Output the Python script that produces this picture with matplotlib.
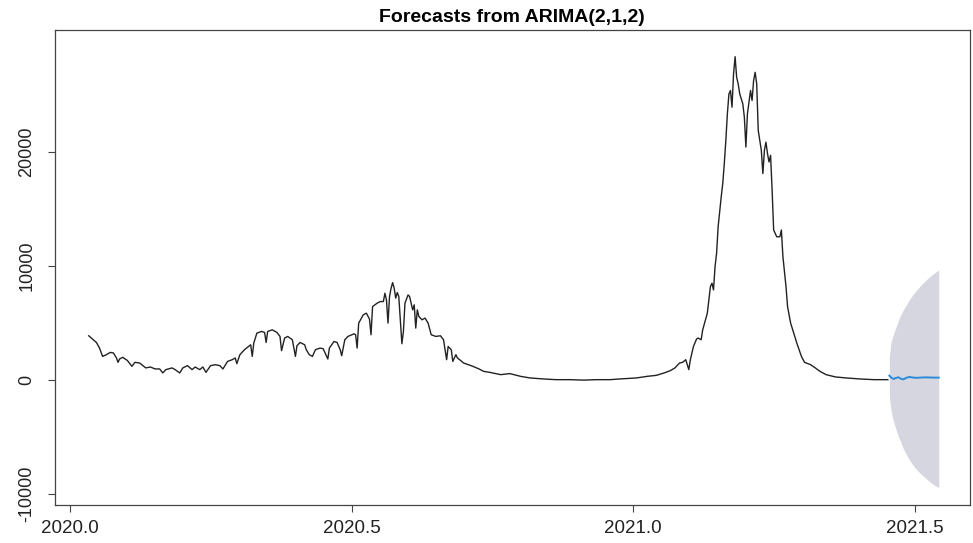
import matplotlib
matplotlib.use("Agg")
import matplotlib.pyplot as plt

# observed daily series (day index counted from 2020-01-01, frequency 365)
obs_day = [12, 15, 17, 19, 21, 23, 26, 28, 30, 31, 32, 34, 37, 40, 42, 45, 49, 52, 55, 58,
           60, 62, 66, 68, 71, 73, 76, 79, 81, 84, 86, 88, 91, 94, 97, 99, 102, 105, 107, 108,
           110, 113, 117, 118, 119, 121, 124, 126, 127, 128, 131, 134, 136, 137, 139, 141, 144, 146, 147, 149,
           152, 153, 155, 157, 159, 162, 164, 167, 168, 171, 173, 175, 176, 178, 180, 184, 185, 186, 187, 190,
           192, 194, 195, 196, 199, 201, 203, 204, 205, 206, 207, 208, 209, 210, 211, 212, 213, 214, 215, 216,
           217, 219, 220, 222, 223, 224, 225, 226, 228, 230, 232, 234, 237, 240, 242, 243, 244, 245, 247, 248,
           250, 251, 253, 255, 258, 261, 265, 268, 272, 279, 285, 292, 298, 307, 315, 324, 333, 341, 350, 356,
           367, 374, 380, 385, 389, 392, 395, 397, 399, 401, 402, 404, 406, 407, 409, 410, 413, 415, 416, 417,
           418, 419, 420, 422, 423, 424, 425, 426, 427, 428, 429, 430, 431, 432, 433, 434, 435, 436, 437, 438,
           439, 441, 442, 443, 444, 445, 446, 448, 449, 450, 451, 452, 453, 454, 455, 456, 458, 460, 461, 462,
           464, 465, 467, 469, 471, 474, 476, 480, 483, 486, 490, 496, 503, 512, 521, 530]
obs_cases = [3890, 3540, 3300, 2810, 2080, 2200, 2430, 2380, 1940, 1560, 1850, 2000, 1730, 1210, 1560, 1500, 1070, 1150, 980, 980,
             630, 920, 1070, 920, 630, 1070, 1270, 920, 1150, 920, 1150, 680, 1270, 1350, 1270, 980, 1640, 1790, 1940, 1440,
             2230, 2670, 3100, 2080, 3250, 4120, 4270, 4180, 3300, 4270, 4410, 4180, 3830, 2580, 3690, 3830, 3540, 2080, 3020, 3300,
             3100, 2670, 2230, 2080, 2670, 2810, 2750, 1850, 2810, 3390, 3300, 2670, 2140, 3540, 3830, 4060, 3980, 2810, 5000, 5730,
             5870, 5350, 3980, 6450, 6750, 6890, 6890, 7620, 7040, 5000, 7330, 8060, 8550, 8060, 7190, 7680, 7330, 5290, 3190, 4270,
             6750, 7470, 7330, 6160, 6600, 4560, 6160, 5580, 5290, 5440, 5000, 3980, 3830, 3890, 3540, 2670, 1790, 2950, 2670, 1640,
             2230, 1940, 1730, 1500, 1350, 1210, 980, 770, 680, 480, 570, 330, 190, 100, 40, 40, 0, 40, 40, 100,
             190, 330, 420, 630, 830, 1070, 1500, 1560, 1790, 920, 1790, 2950, 3600, 3690, 3540, 4410, 5870, 8200, 8500, 7910,
             9950, 11120, 13440, 16070, 17240, 18990, 21020, 23360, 25100, 25390, 23930, 26850, 28360, 26560, 25980, 25100, 24670, 24230, 23060, 20440,
             23360, 25390, 24520, 26270, 26990, 25980, 21900, 20150, 18110, 20150, 20870, 19860, 19130, 19710, 16650, 13160, 12570, 12570, 13160, 10820,
             8200, 6450, 5000, 4120, 3250, 2080, 1560, 1350, 1070, 770, 480, 280, 190, 100, 40, 40]

# forecast horizon
fc_day = [531, 532, 533, 534, 535, 537, 538, 540, 542, 544, 546, 549, 552, 555, 557, 560, 563]
fc_mean = [390, 250, 150, 100, 180, 250, 150, 60, 200, 280, 230, 200, 230, 240, 230, 220, 220]
fc_lower = [-1420, -2580, -3300, -3740, -4200, -5000, -5300, -6000, -6500, -7000, -7400,
            -7900, -8300, -8650, -8900, -9200, -9420]
fc_upper = [2080, 3250, 3750, 4150, 4550, 5250, 5600, 6150, 6600, 7050, 7450,
            7950, 8400, 8800, 9050, 9370, 9660]

x_ticks = [2020.0, 2020.5, 2021.0, 2021.5]
y_ticks = [-10000, 0, 10000, 20000]


def to_year(days):
    return [2020 + d / 365 for d in days]


def main():
    plt.rcParams["font.family"] = ["Liberation Sans", "DejaVu Sans"]
    fig = plt.figure(figsize=(9.73, 5.43), dpi=100)
    ax = fig.add_axes([55 / 973, 38 / 543, 915 / 973, 475 / 543])

    ax.fill_between(to_year(fc_day), fc_lower, fc_upper, color="#d5d6df", lw=0)
    ax.plot(to_year(obs_day), obs_cases, color="#222222", lw=1.0)
    ax.plot(to_year(fc_day), fc_mean, color="#2b8cdb", lw=1.4)

    ax.set_xlim(2019.973, 2021.598)
    ax.set_ylim(-10950, 30700)
    ax.set_xticks(x_ticks)
    ax.set_xticklabels([f"{v:.1f}" for v in x_ticks], fontsize=13.5)
    ax.set_yticks(y_ticks)
    ax.set_yticklabels([str(v) for v in y_ticks], fontsize=13)

    for s in ax.spines.values():
        s.set_color("#444444")
        s.set_linewidth(0.9)
    ax.tick_params(axis="both", direction="out", length=5, width=0.8,
                   color="#444444", labelcolor="#222222")
    ax.tick_params(axis="x", pad=6)
    ax.tick_params(axis="y", pad=9, labelrotation=90)
    for lab in ax.get_yticklabels():
        lab.set_va("center")

    fig.text(512 / 973, 1 - 17 / 543, "Forecasts from ARIMA(2,1,2)",
             ha="center", va="center", fontsize=14, fontweight="bold")

    fig.savefig("out.png", dpi=100)
    plt.close(fig)


if __name__ == "__main__":
    main()
